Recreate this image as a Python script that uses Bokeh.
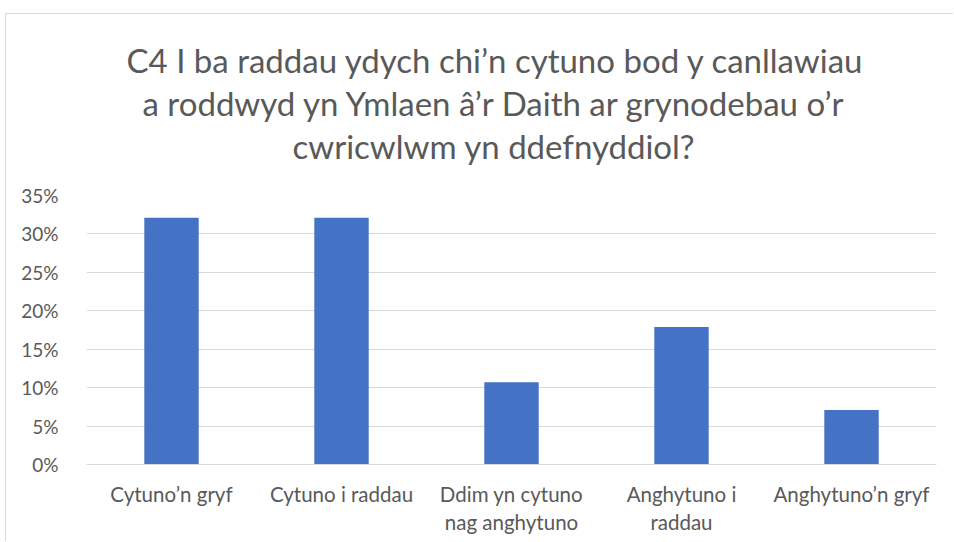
from bokeh.plotting import figure
from bokeh.models import NumeralTickFormatter, FixedTicker, Range1d, Title
from bokeh.embed import file_html
from bokeh.resources import INLINE

categories = ["Cytuno’n gryf", "Cytuno i raddau", "Ddim yn cytuno\nnag anghytuno",
              "Anghytuno i\nraddau", "Anghytuno’n gryf"]
values = [0.321, 0.321, 0.107, 0.179, 0.071]
y_ticks = [0, 0.05, 0.10, 0.15, 0.20, 0.25, 0.30, 0.35]
title_lines = ["C4 I ba raddau ydych chi’n cytuno bod y canllawiau",
               "a roddwyd yn Ymlaen â’r Daith ar grynodebau o’r",
               "cwricwlwm yn ddefnyddiol?"]

FONT = "Lato"
GREY = "#595959"

p = figure(x_range=categories, y_range=Range1d(0, 0.35), width=948, height=528,
           output_backend="svg", toolbar_location=None, title=None,
           min_border_left=80, min_border_right=18, min_border_top=181, min_border_bottom=78)
p.margin = (13, 0, 0, 5)
p.styles = {"border-top": "1px solid #d9d9d9", "border-left": "1px solid #d9d9d9"}
p.vbar(x=categories, top=values, width=0.32, color="#4472C4", line_color=None)

# small spacer between the plot frame and the title block
p.add_layout(Title(text=" ", text_font_size="1px", standoff=24), "above")

# title: three lines, the last one nearest the plot frame; offsets centre each line on the chart
title_standoffs = [1, 1, 1]
title_offsets = [40, 56, 206]
for line, so, off in reversed(list(zip(title_lines, title_standoffs, title_offsets))):
    p.add_layout(Title(text=line, align="left", vertical_align="top", offset=off,
                       text_font=FONT, text_font_size="33px",
                       text_font_style="normal", text_color=GREY, standoff=so), "above")

p.outline_line_color = None
p.xgrid.grid_line_color = None
p.ygrid.grid_line_color = "#d9d9d9"
p.ygrid.ticker = FixedTicker(ticks=y_ticks)

p.yaxis.ticker = FixedTicker(ticks=y_ticks)
p.yaxis.formatter = NumeralTickFormatter(format="0%")
p.yaxis.axis_line_color = None
p.yaxis.major_tick_line_color = None
p.yaxis.minor_tick_line_color = None
p.yaxis.major_label_standoff = 22
p.yaxis.major_label_text_font_size = "19px"

p.xaxis.axis_line_color = "#d9d9d9"
p.xaxis.major_tick_line_color = None
p.xaxis.minor_tick_line_color = None
p.xaxis.major_label_standoff = 11
p.xaxis.major_label_text_font_size = "20.5px"

for ax in (p.xaxis, p.yaxis):
    ax.major_label_text_font = FONT
    ax.major_label_text_color = GREY

open("out.html", "w").write(file_html(p, INLINE))
